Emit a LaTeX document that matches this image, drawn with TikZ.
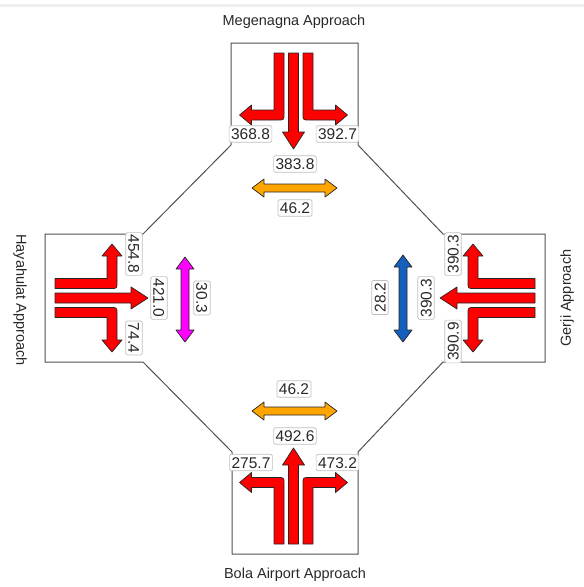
\documentclass[tikz,border=0pt]{standalone}
\usepackage{fontspec}
\setmainfont{Liberation Sans}

\definecolor{lanered}{RGB}{255,0,0}
\definecolor{pedorange}{RGB}{255,165,0}
\definecolor{pedmagenta}{RGB}{255,0,255}
\definecolor{pedblue}{RGB}{21,96,189}
\definecolor{edgegray}{RGB}{80,80,80}
\definecolor{rulegray}{RGB}{238,238,241}
\definecolor{textdark}{RGB}{40,40,40}

\tikzset{
  movearrow/.style={fill=lanered, draw=black!85, line width=0.7pt, line join=round},
  pedarrow/.style={draw=black!85, line width=0.7pt, line join=round},
  volume/.style={draw=black!25, fill=white, rounded corners=1.5pt, line width=0.7pt,
    inner xsep=2pt, inner ysep=2.6pt, text height=11.2pt, text depth=0pt,
    font=\fontsize{15.5}{16}\selectfont, text=textdark},
  approach/.style={font=\fontsize{14.5}{16}\selectfont, text=textdark, inner sep=0pt},
  crossing/.style={draw=edgegray, line width=1pt, line join=miter}
}

% three lane arrows of one approach; local u = across, v = depth inward
% #1 = depth where the turning arrows bend, #2 = depth of the through tip
\newcommand{\approachlanes}[2]{%
  % through movement
  \draw[movearrow] (-5,10) -- (5,10) -- (5,#2-17) -- (11,#2-17) -- (0,#2)
    -- (-11,#2-17) -- (-5,#2-17) -- cycle;
  % turn towards +u
  \draw[movearrow] (9.5,10) -- (19.5,10) -- (19.5,#1-5) -- (42,#1-5) -- (42,#1-10)
    -- (54,#1) -- (42,#1+10) -- (42,#1+5) -- (15.5,#1+5)
    .. controls (9.5,#1+5) .. (9.5,#1-1) -- cycle;
  % turn towards -u
  \draw[movearrow] (-9.5,10) -- (-19.5,10) -- (-19.5,#1-5) -- (-42,#1-5) -- (-42,#1-10)
    -- (-54,#1) -- (-42,#1+10) -- (-42,#1+5) -- (-15.5,#1+5)
    .. controls (-9.5,#1+5) .. (-9.5,#1-1) -- cycle;
}

% two-way pedestrian crossing arrow; #1 = fill colour, #2 = half length
\newcommand{\crosswalkarrow}[2]{%
  \draw[pedarrow, fill=#1] (-#2,0) -- (-#2+12,-9) -- (-#2+12,-4) -- (#2-12,-4)
    -- (#2-12,-9) -- (#2,0) -- (#2-12,9) -- (#2-12,4) -- (-#2+12,4)
    -- (-#2+12,9) -- cycle;
}

\begin{document}
\begin{tikzpicture}[x=1pt, y=-1pt]
  \useasboundingbox (0,0) rectangle (584,587);
  \fill[rulegray] (0,4) rectangle (584,6.5);

  % intersection outline: four approach boxes joined by diagonals
  \draw[crossing] (231,145) -- (231,43) -- (358,43) -- (358,145)
    -- (443,234) -- (545,234) -- (545,362) -- (443,362)
    -- (358,452) -- (358,554) -- (232,554) -- (232,452)
    -- (143,362) -- (45,362) -- (45,234) -- (143,234) -- cycle;

  % lane movements
  \begin{scope}[shift={(293.5,43)}]
    \approachlanes{72}{106}
  \end{scope}
  \begin{scope}[shift={(293.5,554)}, rotate=180]
    \approachlanes{71.5}{106}
  \end{scope}
  \begin{scope}[shift={(45,298)}, rotate=90]
    \approachlanes{67}{103}
  \end{scope}
  \begin{scope}[shift={(545,298)}, rotate=-90]
    \approachlanes{72}{105}
  \end{scope}

  % pedestrian crossings
  \begin{scope}[shift={(294.5,188)}]
    \crosswalkarrow{pedorange}{42.5}
  \end{scope}
  \begin{scope}[shift={(294.5,411)}]
    \crosswalkarrow{pedorange}{42.5}
  \end{scope}
  \begin{scope}[shift={(185,299.5)}, rotate=90]
    \crosswalkarrow{pedmagenta}{42.5}
  \end{scope}
  \begin{scope}[shift={(403,298.5)}, rotate=90]
    \crosswalkarrow{pedblue}{43.5}
  \end{scope}

  % approach names
  \node[approach] (nameN) at (294,22) {Megenagna Approach};
  \node[approach] (nameS) at (295,575) {Bola Airport Approach};
  \node[approach, rotate=-90] (nameW) at (20,300) {Hayahulat Approach};
  \node[approach, rotate=90] (nameE) at (567,298) {Gerji Approach};

  % volumes, north approach
  \node[volume] (nR) at (250.5,134) {368.8};
  \node[volume] (nL) at (337.5,134) {392.7};
  \node[volume] (nT) at (295,164) {383.8};
  \node[volume] (nP) at (295,208) {46.2};

  % volumes, south approach
  \node[volume] (sP) at (294,389) {46.2};
  \node[volume] (sT) at (295,436) {492.6};
  \node[volume] (sL) at (251,462.5) {275.7};
  \node[volume] (sR) at (337.5,462.5) {473.2};

  % volumes, west approach
  \node[volume, rotate=-90] (wL) at (134,254) {454.8};
  \node[volume, rotate=-90] (wT) at (159,298) {421.0};
  \node[volume, rotate=-90] (wR) at (134,338) {74.4};
  \node[volume, rotate=-90] (wP) at (202,298) {30.3};

  % volumes, east approach
  \node[volume, rotate=90] (eR) at (453,254) {390.3};
  \node[volume, rotate=90] (eT) at (426,298) {390.3};
  \node[volume, rotate=90] (eL) at (453,341.5) {390.9};
  \node[volume, rotate=90] (eP) at (380,297.5) {28.2};
\end{tikzpicture}
\end{document}
